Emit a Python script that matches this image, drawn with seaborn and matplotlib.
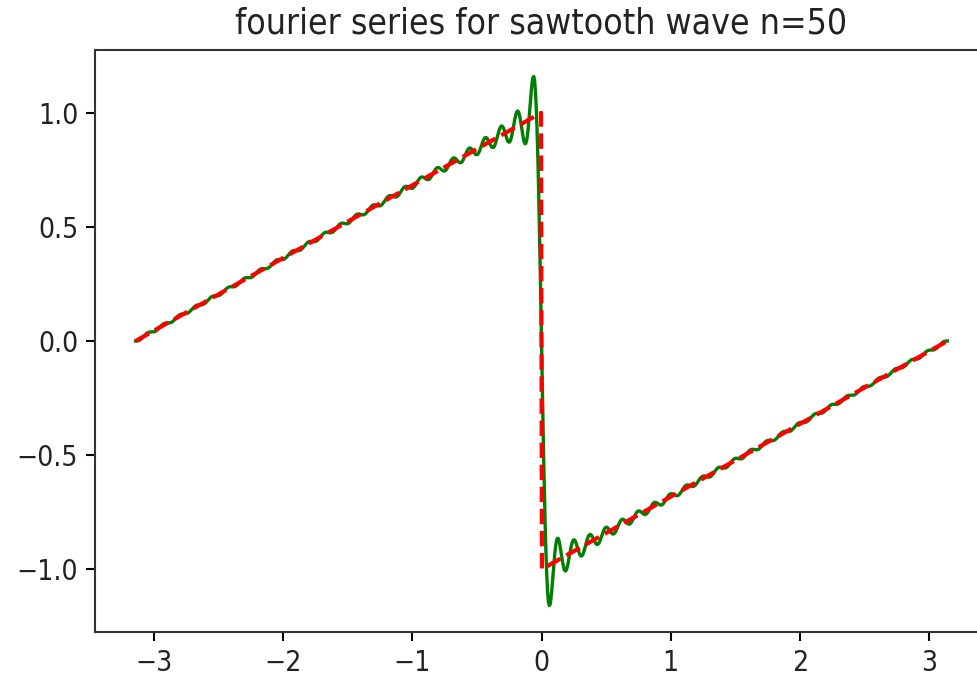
import numpy as np
import pandas as pd
import matplotlib
matplotlib.use("Agg")
import matplotlib.pyplot as plt
import seaborn as sns

# Chart parameters
title = "fourier series for sawtooth wave n=50"
n_terms = 50
x_start, x_end = -np.pi, np.pi
n_samples = 1000
xticks = [-3, -2, -1, 0, 1, 2, 3]
yticks = [-1.0, -0.5, 0.0, 0.5, 1.0]

x = np.linspace(x_start, x_end, n_samples)
# target sawtooth: rises 0 -> 1 on (-pi, 0), jumps to -1, rises -1 -> 0 on (0, pi)
saw = np.where(x < 0, x / np.pi + 1, x / np.pi - 1)
# partial Fourier sum with n_terms harmonics
k = np.arange(1, n_terms + 1)
fourier = -(2 / np.pi) * (np.sin(np.outer(x, k)) / k).sum(axis=1)

df = pd.DataFrame({"x": x, "fourier": fourier, "saw": saw})

plt.rcParams["font.family"] = ["DejaVu Sans"]
plt.rcParams["font.stretch"] = "condensed"

dpi = 150
fig = plt.figure(figsize=(977 / dpi, 680 / dpi), dpi=dpi)
ax = fig.add_axes([95 / 977, 1 - 632 / 680, (988 - 95) / 977, (632 - 50) / 680])

sns.lineplot(data=df, x="x", y="fourier", color="g", ax=ax, estimator=None, linewidth=1.6)
sns.lineplot(data=df, x="x", y="saw", color="r", ax=ax, estimator=None, linewidth=2, linestyle="--")

ax.set_title(title, fontsize=17, color="#222222", pad=8, fontstretch="condensed")
ax.set_xlabel("")
ax.set_ylabel("")
ax.set_xticks(xticks)
ax.set_yticks(yticks)
ax.tick_params(labelsize=13.5, length=4.5, width=1.0, labelcolor="#222222")
for lab in ax.get_xticklabels() + ax.get_yticklabels():
    lab.set_fontstretch("condensed")
for s in ax.spines.values():
    s.set_linewidth(1.0)
    s.set_color("#333333")

fig.savefig("out.png", dpi=dpi)
